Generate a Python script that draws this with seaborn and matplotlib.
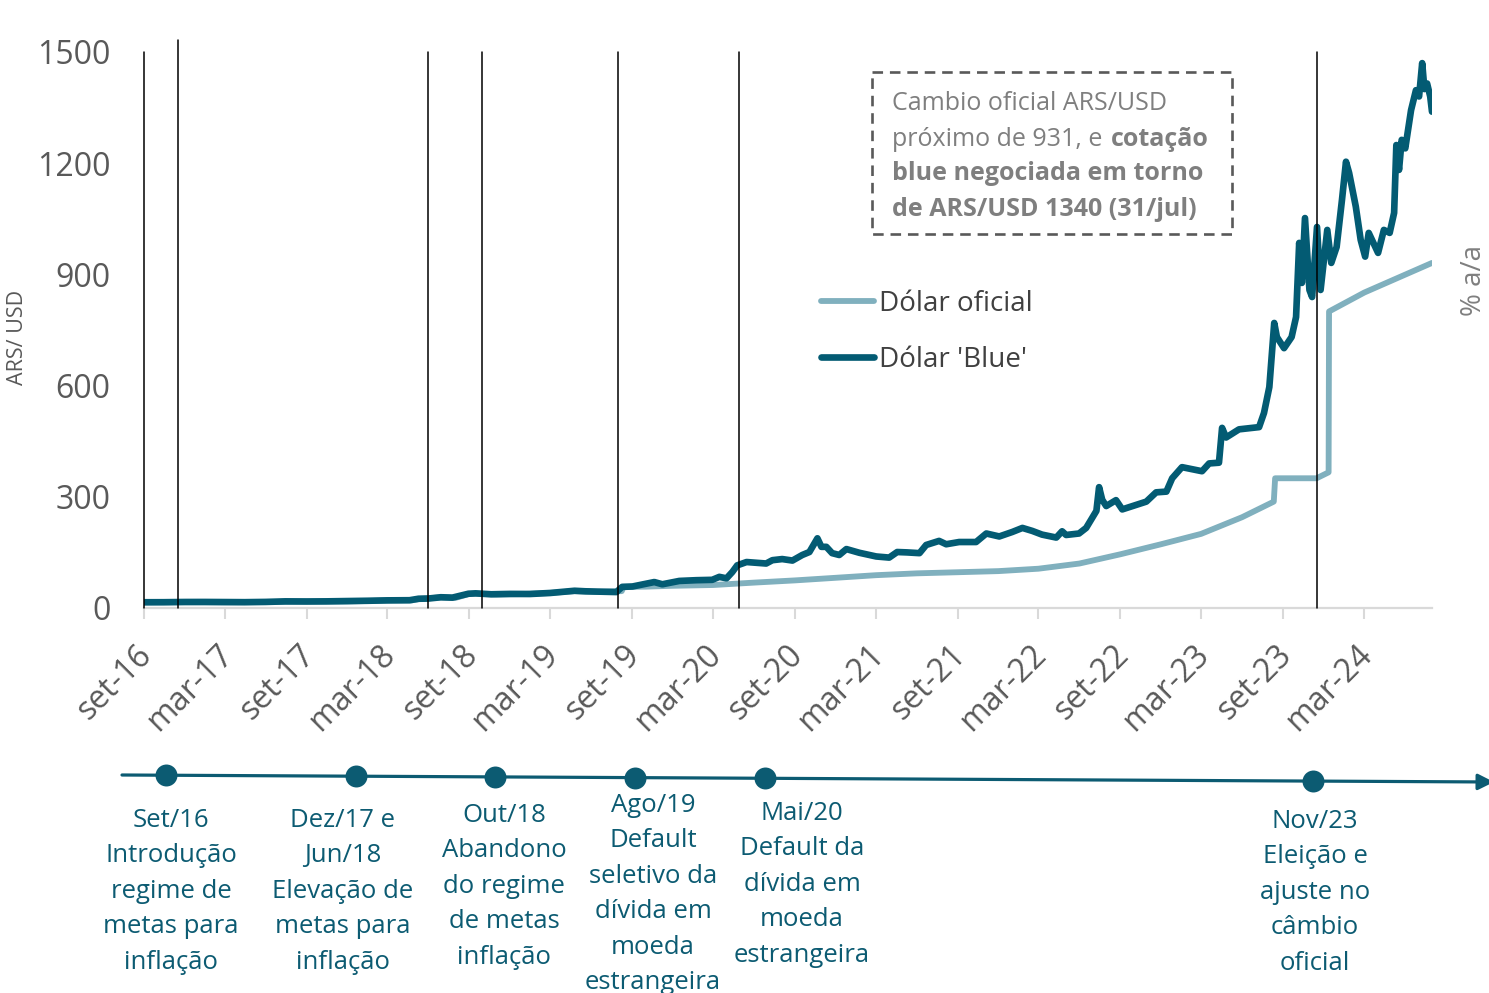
import numpy as np
import pandas as pd
import matplotlib
matplotlib.use("Agg")
import matplotlib.pyplot as plt
import matplotlib.dates as mdates
import matplotlib.transforms as mtransforms
from matplotlib.patches import Rectangle
import seaborn as sns

# ---------------- data ----------------
blue_dates = [
    '2016-09-01', '2016-10-15', '2016-12-01', '2017-01-15', '2017-03-01', '2017-04-15', '2017-06-01', '2017-07-15', '2017-09-01', '2017-10-15',
    '2017-12-01', '2018-01-15', '2018-03-01', '2018-04-20', '2018-05-10', '2018-06-01', '2018-06-29', '2018-07-25', '2018-08-30', '2018-09-15',
    '2018-10-20', '2018-12-01', '2019-01-15', '2019-03-01', '2019-04-25', '2019-05-20', '2019-06-20', '2019-07-28', '2019-08-10', '2019-09-02',
    '2019-10-21', '2019-11-08', '2019-12-16', '2020-01-23', '2020-02-28', '2020-03-15', '2020-03-31', '2020-04-13', '2020-04-24', '2020-05-15',
    '2020-06-28', '2020-07-12', '2020-08-03', '2020-08-26', '2020-09-17', '2020-10-03', '2020-10-21', '2020-10-30', '2020-11-10', '2020-11-23',
    '2020-12-09', '2020-12-25', '2021-01-23', '2021-03-02', '2021-03-31', '2021-04-18', '2021-05-10', '2021-06-07', '2021-06-22', '2021-07-21',
    '2021-08-06', '2021-09-04', '2021-10-12', '2021-11-04', '2021-12-03', '2022-01-01', '2022-01-24', '2022-02-15', '2022-03-09', '2022-04-10',
    '2022-04-23', '2022-05-02', '2022-05-31', '2022-06-16', '2022-07-09', '2022-07-15', '2022-07-22', '2022-07-31', '2022-08-22', '2022-09-05',
    '2022-10-06', '2022-10-29', '2022-11-20', '2022-12-13', '2022-12-26', '2023-01-17', '2023-03-03', '2023-03-19', '2023-04-10', '2023-04-17',
    '2023-04-26', '2023-05-25', '2023-07-09', '2023-07-20', '2023-08-01', '2023-08-12', '2023-08-18', '2023-09-03', '2023-09-20', '2023-09-30',
    '2023-10-07', '2023-10-13', '2023-10-20', '2023-10-30', '2023-11-05', '2023-11-16', '2023-11-24', '2023-12-09', '2023-12-18', '2023-12-30',
    '2024-01-11', '2024-01-20', '2024-01-27', '2024-02-11', '2024-02-22', '2024-03-03', '2024-03-11', '2024-04-01', '2024-04-14', '2024-04-27',
    '2024-05-07', '2024-05-12', '2024-05-18', '2024-05-24', '2024-06-01', '2024-06-14', '2024-06-25', '2024-07-02', '2024-07-09', '2024-07-14',
    '2024-07-20', '2024-07-27', '2024-07-31',
]
blue_values = [
    15.5, 15.6, 16.2, 16.3, 15.9, 15.7, 16.4, 17.9, 17.6, 17.9,
    18.6, 19.5, 20.6, 21.0, 25.0, 25.5, 29.0, 28.0, 38.5, 39.5,
    37.0, 38.0, 37.8, 40.5, 46.5, 45.0, 44.0, 43.0, 57.0, 58.0,
    70.0, 64.0, 73.0, 75.0, 76.0, 84.0, 80.0, 97.0, 115.0, 124.0,
    120.0, 129.0, 132.0, 128.0, 143.0, 151.0, 188.0, 165.0, 165.0, 148.0,
    143.0, 159.0, 149.0, 139.0, 136.0, 151.0, 150.0, 148.0, 170.0, 181.0,
    172.0, 178.0, 178.0, 201.0, 193.0, 205.0, 216.0, 208.0, 198.0, 190.0,
    207.0, 197.0, 201.0, 216.0, 262.0, 326.0, 292.0, 275.0, 291.0, 266.0,
    278.0, 287.0, 312.0, 314.0, 350.0, 380.0, 369.0, 390.0, 392.0, 486.0,
    460.0, 482.0, 488.0, 526.0, 596.0, 769.0, 731.0, 701.0, 731.0, 785.0,
    985.0, 877.0, 1052.0, 858.0, 839.0, 1028.0, 858.0, 1020.0, 931.0, 974.0,
    1101.0, 1204.0, 1174.0, 1083.0, 993.0, 948.0, 1012.0, 958.0, 1020.0, 1012.0,
    1066.0, 1249.0, 1182.0, 1263.0, 1240.0, 1343.0, 1397.0, 1380.0, 1470.0, 1400.0,
    1415.0, 1380.0, 1339.0,
]

official_dates = [
    '2016-09-01', '2016-12-01', '2017-03-01', '2017-06-01', '2017-09-01', '2017-12-01', '2018-03-01', '2018-04-25', '2018-05-15', '2018-06-29',
    '2018-08-01', '2018-08-30', '2018-09-15', '2018-11-01', '2019-01-01', '2019-03-01', '2019-04-25', '2019-06-15', '2019-08-09', '2019-08-13',
    '2019-10-01', '2019-12-01', '2020-03-01', '2020-06-01', '2020-09-01', '2020-12-01', '2021-03-01', '2021-06-01', '2021-09-01', '2021-12-01',
    '2022-03-01', '2022-06-01', '2022-09-01', '2022-12-01', '2023-03-01', '2023-06-01', '2023-08-11', '2023-08-14', '2023-11-15', '2023-12-12',
    '2023-12-13', '2024-03-01', '2024-07-31',
]
official_values = [
    15.2, 15.8, 15.5, 16.1, 17.3, 17.6, 20.2, 20.6, 24.8, 28.6,
    27.3, 37.5, 38.5, 36.5, 37.7, 40.5, 45.5, 43.5, 45.5, 57.0,
    57.6, 59.9, 62.0, 68.5, 74.5, 81.5, 88.5, 93.5, 96.5, 99.5,
    106.0, 120.0, 145.0, 172.0, 200.0, 245.0, 287.0, 350.0, 350.0, 366.0,
    800.0, 851.0, 931.0,
]

event_line_dates = ['2016-09-01', '2016-11-16', '2018-05-31', '2018-09-29', '2019-08-01', '2020-04-29', '2023-11-16']

x_tick_labels = ['set-16', 'mar-17', 'set-17', 'mar-18', 'set-18', 'mar-19', 'set-19', 'mar-20',
                 'set-20', 'mar-21', 'set-21', 'mar-22', 'set-22', 'mar-23', 'set-23', 'mar-24']
y_ticks = [0, 300, 600, 900, 1200, 1500]
legend_labels = ['Dólar oficial', "Dólar 'Blue'"]
y_label = 'ARS/ USD'
right_label = '% a/a'

box_lines = ['Cambio oficial ARS/USD', 'próximo de 931, e ', 'cotação',
             'blue negociada em torno', 'de ARS/USD 1340 (31/jul)']

timeline_labels = [
    'Set/16\nIntrodução\nregime de\nmetas para\ninflação',
    'Dez/17 e\nJun/18\nElevação de\nmetas para\ninflação',
    'Out/18\nAbandono\ndo regime\nde metas\ninflação',
    'Ago/19\nDefault\nseletivo da\ndívida em\nmoeda\nestrangeira',
    'Mai/20\nDefault da\ndívida em\nmoeda\nestrangeira',
    'Nov/23\nEleição e\najuste no\ncâmbio\noficial',
]
# schematic timeline positions (figure pixels, not dates)
timeline_dot_x = [166, 356, 495, 635, 765, 1313]
timeline_text_x = [171, 343, 504, 653, 802, 1315]
timeline_text_top = [808, 808, 803, 793, 801, 809]

# ---------------- style ----------------
DARK = '#035B73'
LIGHT = '#80B0BE'
TEAL = '#0C5B72'
GRAY = '#595959'

sns.set_theme(style='white')
plt.rcParams['font.family'] = ['Open Sans', 'DejaVu Sans']

W, H = 1489, 993
fig = plt.figure(figsize=(W / 100, H / 100), dpi=100)
ax = fig.add_axes([144 / W, 1 - 608 / H, (1432 - 144) / W, (608 - 52) / H])

sns.lineplot(x=pd.to_datetime(official_dates), y=official_values, ax=ax,
             color=LIGHT, lw=4.2, errorbar=None)
sns.lineplot(x=pd.to_datetime(blue_dates), y=blue_values, ax=ax,
             color=DARK, lw=4.8, errorbar=None)
data_lines = list(ax.lines[:2])
for ln in data_lines:
    ln.set_solid_capstyle('round')
    ln.set_solid_joinstyle('round')

for i, d in enumerate(event_line_dates):
    ax.axvline(pd.Timestamp(d), ymin=0, ymax=1.022 if i == 1 else 1.0,
               color='black', lw=1.1, zorder=4, clip_on=False)

ax.set_xlim(pd.Timestamp('2016-09-01'), pd.Timestamp('2024-07-31'))
ax.set_ylim(0, 1500)
tick_dates = pd.date_range('2016-09-01', periods=len(x_tick_labels), freq='6MS')
ax.set_xticks(mdates.date2num(tick_dates))
ax.set_xticklabels(x_tick_labels, rotation=45, ha='right', rotation_mode='anchor')
ax.set_yticks(y_ticks)
ax.set_yticklabels([str(v) for v in y_ticks])
ax.set_xlabel('')
ax.set_ylabel('')

for s in ['top', 'right', 'left']:
    ax.spines[s].set_visible(False)
ax.spines['bottom'].set_color('#D9D9D9')
ax.spines['bottom'].set_linewidth(1.6)
ax.tick_params(axis='x', length=8, width=1.5, color='#D9D9D9', direction='out',
               labelsize=23, labelcolor=GRAY, pad=14, bottom=True)
ax.tick_params(axis='y', length=0, labelsize=23, labelcolor=GRAY, pad=24)
ax.grid(False)

# nudge rotated x labels slightly left (after tick_params so it is not reset)
shift = mtransforms.ScaledTranslation(-6 / 72, 0, fig.dpi_scale_trans)
for lab in ax.get_xticklabels():
    lab.set_transform(lab.get_transform() + shift)

fig.text(18 / W, 1 - 337 / H, y_label, rotation=90, ha='center', va='center',
         fontsize=15.5, color=GRAY)
fig.text(1488 / W, 1 - 280 / H, right_label, rotation=90, ha='right', va='center',
         fontsize=20, color='#7F7F7F')

fig.legend(handles=data_lines, labels=legend_labels, loc='upper left',
           bbox_to_anchor=(821 / W, 1 - 290 / H), frameon=False, fontsize=20,
           handlelength=1.9, handletextpad=0.2, labelspacing=1.0,
           borderpad=0, borderaxespad=0, labelcolor='#404040')

# ---------------- overlay (pixel coordinates) ----------------
ov = fig.add_axes([0, 0, 1, 1])
ov.set_xlim(0, W)
ov.set_ylim(H, 0)
ov.axis('off')
ov.patch.set_alpha(0)

# annotation box
ov.add_patch(Rectangle((872, 72), 360, 162, fill=False, edgecolor='#595959',
                       lw=1.9, linestyle=(0, (4, 2.6))))
BOXC = '#7F7F7F'
ys = [103, 139, 174, 209]
t1 = ov.text(892, ys[0], box_lines[0], fontsize=18, color=BOXC, va='center', ha='left')
t2 = ov.text(892, ys[1], box_lines[1], fontsize=18, color=BOXC, va='center', ha='left')
fig.canvas.draw()
r = fig.canvas.get_renderer()
bb = t2.get_window_extent(renderer=r)
ov.text(bb.x1 + 2, ys[1], box_lines[2], fontsize=18, color=BOXC, va='center', ha='left',
        fontweight='bold')
ov.text(892, ys[2], box_lines[3], fontsize=18, color=BOXC, va='center', ha='left', fontweight='bold')
ov.text(892, ys[3], box_lines[4], fontsize=18, color=BOXC, va='center', ha='left', fontweight='bold')

# timeline
x0, y0, x1, y1 = 122, 775, 1494, 782
ov.annotate('', xy=(x1, y1), xytext=(x0, y0),
            arrowprops=dict(arrowstyle='-|>', color=TEAL, lw=2.3, mutation_scale=24,
                            shrinkA=0, shrinkB=0), annotation_clip=False)
dot_y = [y0 + (x - x0) * (y1 - y0) / (x1 - x0) for x in timeline_dot_x]
ov.scatter(timeline_dot_x, dot_y, s=250, color=TEAL, zorder=5, linewidths=0)
for x, top, lab in zip(timeline_text_x, timeline_text_top, timeline_labels):
    ov.text(x, top, lab, ha='center', va='top', fontsize=18.5, color=TEAL,
            linespacing=1.55, multialignment='center')

fig.savefig('out.png', dpi=100)
